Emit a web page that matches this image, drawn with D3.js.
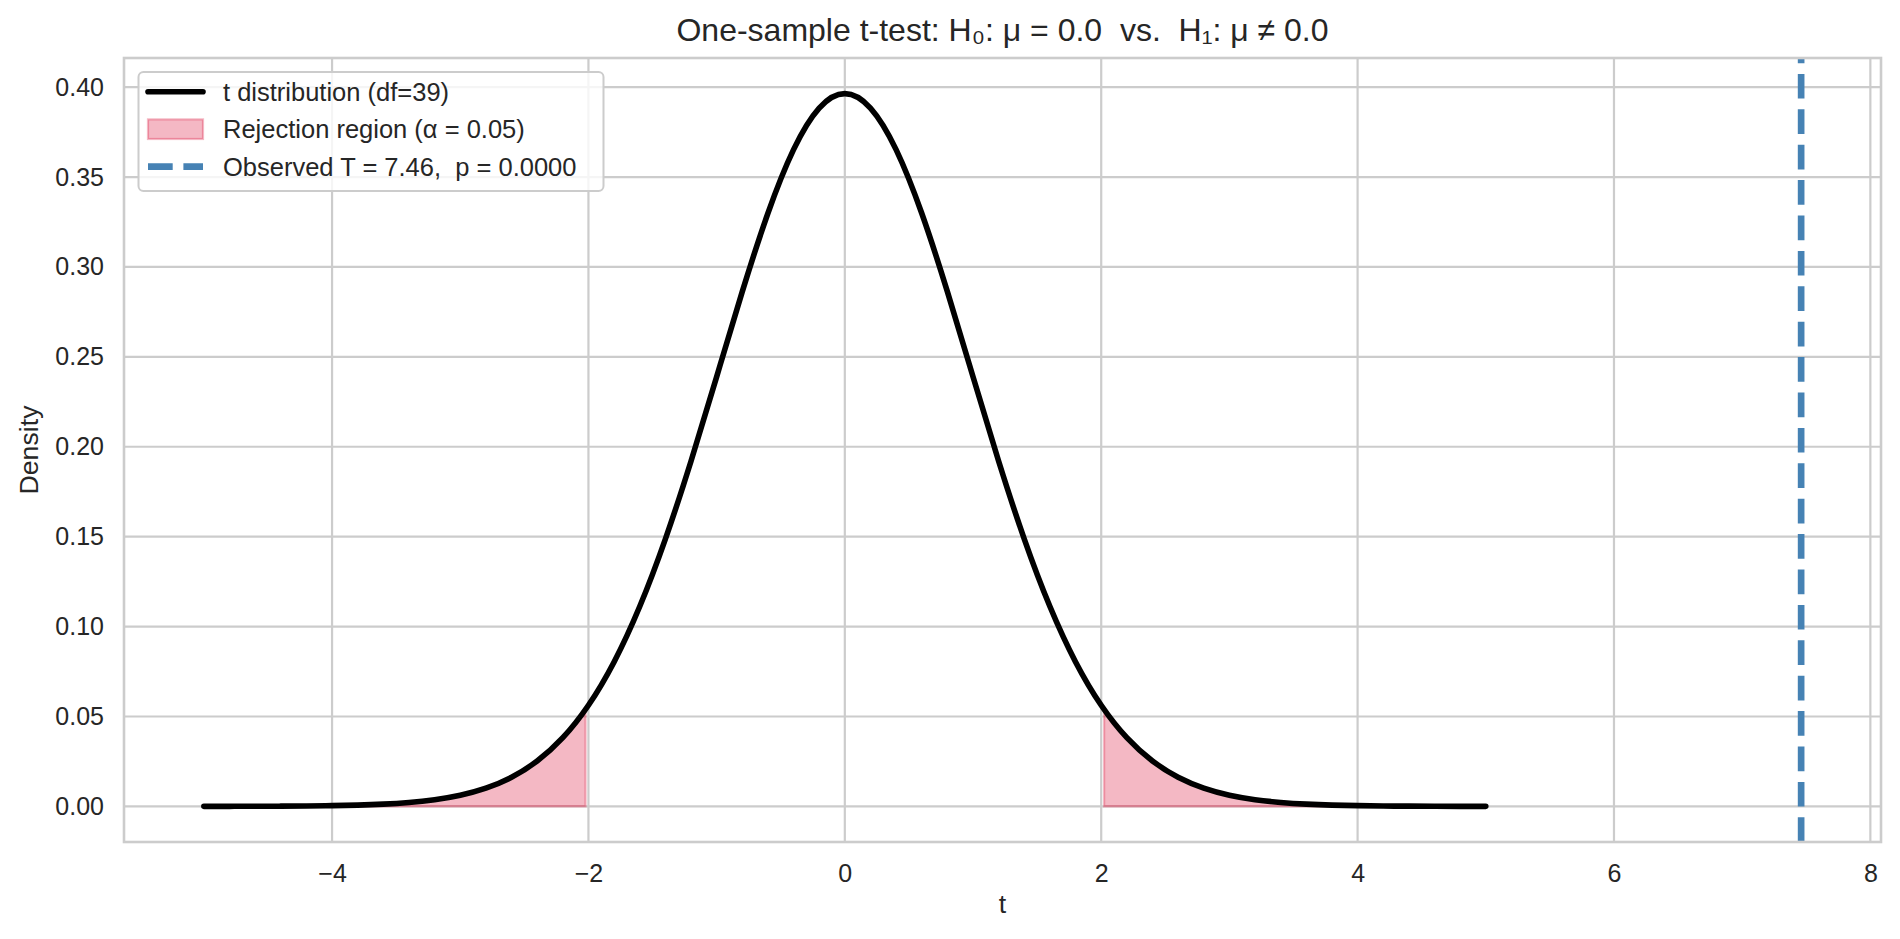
<!DOCTYPE html>
<html>
<head>
<meta charset="utf-8">
<script src="https://cdn.jsdelivr.net/npm/d3@7"></script>
<style>
  html, body { margin: 0; padding: 0; background: #fff; }
  svg { display: block; font-family: "Liberation Sans", Arial, sans-serif; }
</style>
</head>
<body>
<svg id="chart" width="1900" height="939"></svg>
<script>
// ---- data ----
const tValues = [-5.0,-4.8,-4.6,-4.4,-4.2,-4.0,-3.8,-3.6,-3.4,-3.2,-3.0,-2.8,-2.6,-2.4,-2.2,-2.0,-1.8,-1.6,-1.4,-1.2,-1.0,-0.8,-0.6,-0.4,-0.2,
  0.0,0.2,0.4,0.6,0.8,1.0,1.2,1.4,1.6,1.8,2.0,2.2,2.4,2.6,2.8,3.0,3.2,3.4,3.6,3.8,4.0,4.2,4.4,4.6,4.8,5.0];
const densityValues = [0.0000198,0.0000368,0.0000682,0.0001251,0.0002275,0.0004094,0.000728,0.0012766,0.002204,0.003742,0.006231,0.010164,0.016207,0.025212,0.038195,0.056241,0.080342,0.111150,0.148669,0.191953,0.238901,0.286249,0.329850,0.365228,0.388349,
  0.396393,0.388349,0.365228,0.329850,0.286249,0.238901,0.191953,0.148669,0.111150,0.080342,0.056241,0.038195,0.025212,0.016207,0.010164,0.006231,0.003742,0.002204,0.0012766,0.000728,0.0004094,0.0002275,0.0001251,0.0000682,0.0000368,0.0000198];
const criticalT = [-2.0227, 2.0227];
const criticalDensity = [0.05390, 0.05390];
const observedT = 7.46;
const xTicks = [-4, -2, 0, 2, 4, 6, 8];
const yTicks = [0.00, 0.05, 0.10, 0.15, 0.20, 0.25, 0.30, 0.35, 0.40];
const xDomain = [-5.623, 8.083];
const yDomain = [-0.0198, 0.4162];
const titleText = "One-sample t-test: H\u2080: \u03bc = 0.0  vs.  H\u2081: \u03bc \u2260 0.0";
const legendLabels = ["t distribution (df=39)", "Rejection region (\u03b1 = 0.05)", "Observed T = 7.46,  p = 0.0000"];

// ---- layout ----
const svg = d3.select("#chart");
const pL = 124, pR = 1881, pT = 58, pB = 842;
const x = d3.scaleLinear().domain(xDomain).range([pL, pR]);
const y = d3.scaleLinear().domain(yDomain).range([pB, pT]);
const textColor = "#262626", gridColor = "#cccccc";

// grid
const grid = svg.append("g");
grid.selectAll(".vg").data(xTicks).join("line")
  .attr("x1", d => x(d)).attr("x2", d => x(d)).attr("y1", pT).attr("y2", pB)
  .attr("stroke", gridColor).attr("stroke-width", 2.2);
grid.selectAll(".hg").data(yTicks).join("line")
  .attr("y1", d => y(d)).attr("y2", d => y(d)).attr("x1", pL).attr("x2", pR)
  .attr("stroke", gridColor).attr("stroke-width", 2.2);

// axes (labels only, no tick marks)
const xAxis = d3.axisBottom(x).tickValues(xTicks).tickSize(0).tickPadding(22).tickFormat(d3.format("d"));
const yAxis = d3.axisLeft(y).tickValues(yTicks).tickSize(0).tickPadding(20).tickFormat(d3.format(".2f"));
const gx = svg.append("g").attr("transform", `translate(0,${pB})`).call(xAxis);
const gy = svg.append("g").attr("transform", `translate(${pL},0)`).call(yAxis);
[gx, gy].forEach(g => {
  g.select(".domain").remove();
  g.selectAll("text").attr("fill", textColor).style("font-size", "25px")
    .style("font-family", '"Liberation Sans", Arial, sans-serif');
});

// data pairs
const pts = tValues.map((t, i) => ({t, d: densityValues[i]}));
const leftRegion = pts.filter(p => p.t <= criticalT[0]).concat([{t: criticalT[0], d: criticalDensity[0]}]);
const rightRegion = [{t: criticalT[1], d: criticalDensity[1]}].concat(pts.filter(p => p.t >= criticalT[1]));

const area = d3.area().x(p => x(p.t)).y0(y(0)).y1(p => y(p.d)).curve(d3.curveMonotoneX);
[leftRegion, rightRegion].forEach(r => {
  svg.append("path").datum(r).attr("d", area)
    .attr("fill", "crimson").attr("fill-opacity", 0.3)
    .attr("stroke", "crimson").attr("stroke-opacity", 0.3).attr("stroke-width", 2.2);
});

const line = d3.line().x(p => x(p.t)).y(p => y(p.d)).curve(d3.curveNatural);
svg.append("path").datum(pts).attr("d", line)
  .attr("fill", "none").attr("stroke", "#000").attr("stroke-width", 5.6)
  .attr("stroke-linecap", "round").attr("stroke-linejoin", "round");

// observed line
svg.append("line")
  .attr("x1", x(observedT)).attr("x2", x(observedT)).attr("y1", pB).attr("y2", pT)
  .attr("stroke", "steelblue").attr("stroke-width", 6.67).attr("stroke-dasharray", "24.7,10.7");

// spines
svg.append("rect").attr("x", pL).attr("y", pT).attr("width", pR - pL).attr("height", pB - pT)
  .attr("fill", "none").attr("stroke", gridColor).attr("stroke-width", 2.6);

// title and labels
svg.append("text").attr("x", (pL + pR) / 2).attr("y", 41).attr("text-anchor", "middle")
  .attr("fill", textColor).style("font-size", "32px").style("white-space", "pre").text(titleText);
svg.append("text").attr("x", (pL + pR) / 2).attr("y", 913).attr("text-anchor", "middle")
  .attr("fill", textColor).style("font-size", "26.7px").text("t");
svg.append("text").attr("transform", `translate(38,${(pT + pB) / 2}) rotate(-90)`).attr("text-anchor", "middle")
  .attr("fill", textColor).style("font-size", "26.7px").text("Density");

// legend
const lg = svg.append("g");
lg.append("rect").attr("x", 138.5).attr("y", 72).attr("width", 465).attr("height", 119).attr("rx", 5)
  .attr("fill", "#fff").attr("fill-opacity", 0.8).attr("stroke", gridColor).attr("stroke-width", 2);
const rowY = [91.7, 129.2, 166.7];
lg.append("line").attr("x1", 148).attr("x2", 203).attr("y1", rowY[0]).attr("y2", rowY[0])
  .attr("stroke", "#000").attr("stroke-width", 5.6).attr("stroke-linecap", "round");
lg.append("rect").attr("x", 148).attr("y", rowY[1] - 9.8).attr("width", 55).attr("height", 19.6)
  .attr("fill", "crimson").attr("fill-opacity", 0.3)
  .attr("stroke", "crimson").attr("stroke-opacity", 0.3).attr("stroke-width", 2.2);
lg.append("line").attr("x1", 148).attr("x2", 203).attr("y1", rowY[2]).attr("y2", rowY[2])
  .attr("stroke", "steelblue").attr("stroke-width", 6.67).attr("stroke-dasharray", "24.7,10.7");
lg.selectAll(".lt").data(legendLabels).join("text")
  .attr("x", 223).attr("y", (d, i) => rowY[i] + 8.8)
  .attr("fill", textColor).style("font-size", "25.5px").style("white-space", "pre").text(d => d);
</script>
</body>
</html>
